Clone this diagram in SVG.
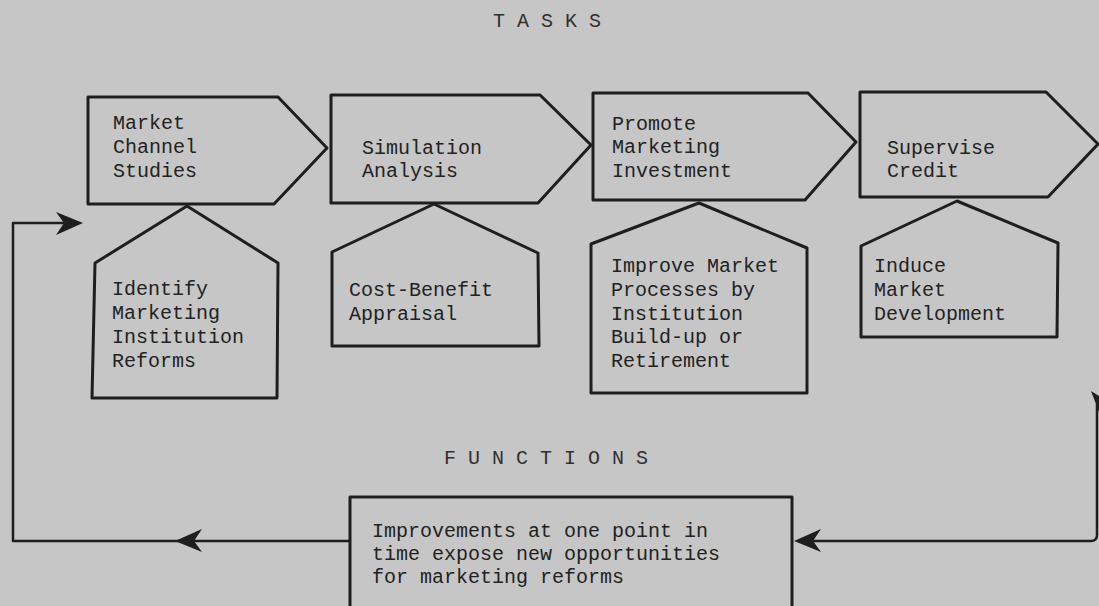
<svg xmlns="http://www.w3.org/2000/svg" width="1099" height="606" viewBox="0 0 1099 606">
<style>
.shape{fill:none;stroke:#1e1e1e;stroke-width:3;stroke-linejoin:round}
.line{fill:none;stroke:#1e1e1e;stroke-width:2.5;stroke-linejoin:round}
.t{font-family:"Liberation Mono","Courier New",monospace;font-size:20px;fill:#222}
.h{font-family:"Liberation Mono","Courier New",monospace;font-size:20px;fill:#303030}
</style>
<defs>
<path id="ah" d="M0,0 L-27,-11 L-19,0 L-27,12 Z" fill="#1e1e1e"/>
</defs>
<rect width="1099" height="606" fill="#c6c6c6"/>
<text class="h" x="493" y="27">T A S K S</text>
<text class="h" x="444" y="464">F U N C T I O N S</text>
<g id="task1">
<polygon class="shape" points="88,97 278,97 327,148 274,204 88,204"/>
<text class="t" x="113" y="129">Market</text>
<text class="t" x="113" y="153">Channel</text>
<text class="t" x="113" y="177">Studies</text>
</g>
<g id="task2">
<polygon class="shape" points="331,95 540,95 591,145 538,203 331,203"/>
<text class="t" x="362" y="154">Simulation</text>
<text class="t" x="362" y="177">Analysis</text>
</g>
<g id="task3">
<polygon class="shape" points="593,93 808,93 856,142 805,200 593,200"/>
<text class="t" x="612" y="130">Promote</text>
<text class="t" x="612" y="153">Marketing</text>
<text class="t" x="612" y="177">Investment</text>
</g>
<g id="task4">
<polygon class="shape" points="860,92 1046,92 1098,144 1048,197 860,197"/>
<text class="t" x="887" y="154">Supervise</text>
<text class="t" x="887" y="177">Credit</text>
</g>
<g id="func1">
<polygon class="shape" points="187,206 278,263 277,398 92,398 95,263"/>
<text class="t" x="112" y="295">Identify</text>
<text class="t" x="112" y="319">Marketing</text>
<text class="t" x="112" y="343">Institution</text>
<text class="t" x="112" y="367">Reforms</text>
</g>
<g id="func2">
<polygon class="shape" points="434,204 538,253 539,346 332,346 332,252"/>
<text class="t" x="349" y="296">Cost-Benefit</text>
<text class="t" x="349" y="320">Appraisal</text>
</g>
<g id="func3">
<polygon class="shape" points="699,203 807,248 807,393 591,393 591,244"/>
<text class="t" x="611" y="272">Improve Market</text>
<text class="t" x="611" y="296">Processes by</text>
<text class="t" x="611" y="320">Institution</text>
<text class="t" x="611" y="343">Build-up or</text>
<text class="t" x="611" y="367">Retirement</text>
</g>
<g id="func4">
<polygon class="shape" points="957,201 1058,243 1057,337 861,337 861,246"/>
<text class="t" x="874" y="272">Induce</text>
<text class="t" x="874" y="296">Market</text>
<text class="t" x="874" y="320">Development</text>
</g>
<g id="feedback">
<rect class="shape" x="350" y="497" width="442" height="115"/>
<text class="t" x="372" y="537">Improvements at one point in</text>
<text class="t" x="372" y="560">time expose new opportunities</text>
<text class="t" x="372" y="583">for marketing reforms</text>
</g>
<g id="connectors">
<path class="line" d="M350,541 H13 V223 H70"/>
<use href="#ah" transform="translate(83,223)"/>
<use href="#ah" transform="translate(175,541) rotate(180)"/>
<path class="line" d="M1097,404 V535 Q1097,541 1091,541 H800"/>
<path d="M1091,391 L1099,396 L1099,412 Z" fill="#1e1e1e"/>
<use href="#ah" transform="translate(794,541) rotate(180)"/>
</g>
</svg>
